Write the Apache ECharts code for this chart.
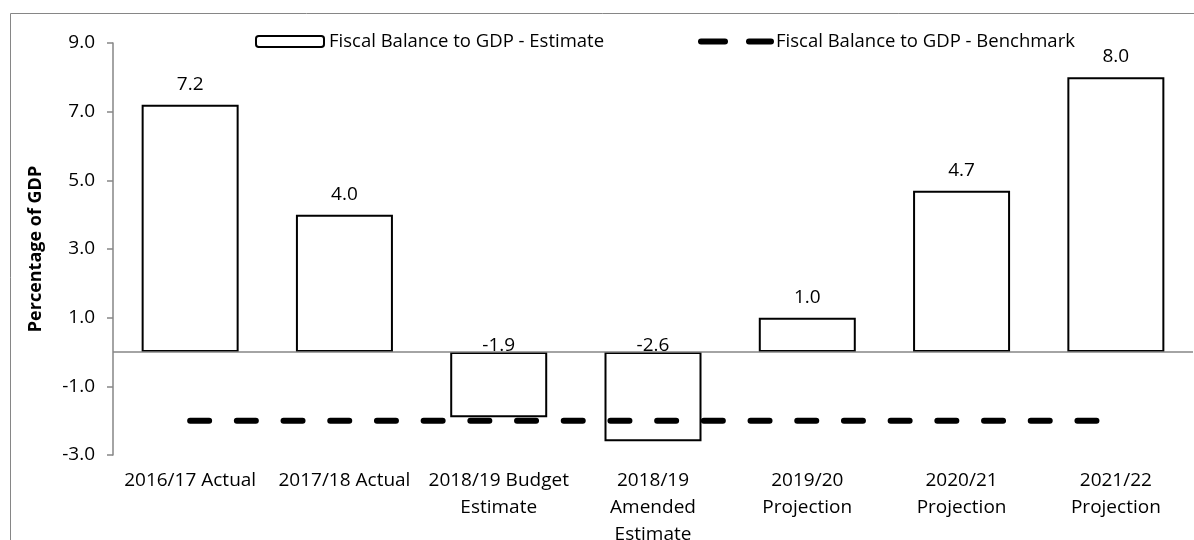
<!DOCTYPE html>
<html>
<head>
<meta charset="utf-8">
<script src="https://cdn.jsdelivr.net/npm/echarts@6/dist/echarts.min.js"></script>
<style>
  html, body { margin: 0; padding: 0; background: #fff; }
  #chart { width: 1194px; height: 540px; }
</style>
</head>
<body>
<div id="chart"></div>
<script>
const categories = [
  "2016/17 Actual",
  "2017/18 Actual",
  "2018/19 Budget\nEstimate",
  "2018/19\nAmended\nEstimate",
  "2019/20\nProjection",
  "2020/21\nProjection",
  "2021/22\nProjection"
];
const estimateValues = [7.2, 4.0, -1.9, -2.6, 1.0, 4.7, 8.0];
const benchmarkValues = [-2, -2, -2, -2, -2, -2, -2];
const yTicks = { min: -3, max: 9, interval: 2 };
const estimateName = "Fiscal Balance to GDP - Estimate";
const benchmarkName = "Fiscal Balance to GDP - Benchmark";
const yAxisName = "Percentage of GDP";

const FONT = "Open Sans";
const GRAY = "#868686";

const barData = estimateValues.map(v => ({
  value: v,
  label: { distance: v < 0 ? -3 : 11 }
}));

const chart = echarts.init(document.getElementById('chart'), null, { renderer: 'canvas' });
chart.setOption({
  animation: false,
  backgroundColor: '#ffffff',
  textStyle: { fontFamily: FONT, color: '#000' },
  graphic: [{
    type: 'rect',
    shape: { x: 10.5, y: 13.5, width: 1300, height: 700 },
    style: { fill: 'none', stroke: GRAY, lineWidth: 1 },
    silent: true,
    z: -10
  }],
  legend: [{
    data: [estimateName],
    left: 250,
    top: 27,
    itemWidth: 68,
    itemHeight: 11,
    itemGap: 0,
    textStyle: { fontFamily: FONT, fontSize: 18.5, color: '#000' },
    itemStyle: { color: '#fff', borderColor: '#000', borderWidth: 2 }
  }, {
    data: [benchmarkName],
    left: 693,
    top: 27,
    itemWidth: 70,
    itemHeight: 11,
    textStyle: { fontFamily: FONT, fontSize: 18.5, color: '#000' },
    itemStyle: { opacity: 0 },
    lineStyle: { color: '#000', width: 6, type: [24, 24], cap: 'round' }
  }],
  grid: { left: 113, right: 1, top: 43, bottom: 85, containLabel: false, outerBoundsMode: 'none' },
  xAxis: {
    type: 'category',
    data: categories,
    boundaryGap: true,
    axisLine: { show: false, onZero: false },
    axisTick: { show: false },
    axisLabel: {
      interval: 0,
      margin: 12,
      fontFamily: FONT,
      fontSize: 19,
      lineHeight: 27,
      color: '#000'
    },
    splitLine: { show: false }
  },
  yAxis: {
    type: 'value',
    min: yTicks.min,
    max: yTicks.max,
    interval: yTicks.interval,
    name: yAxisName,
    nameLocation: 'middle',
    nameRotate: 90,
    nameGap: 68,
    nameTextStyle: { fontFamily: FONT, fontSize: 18, fontWeight: 'bold', color: '#000' },
    axisLine: { show: true, onZero: false, lineStyle: { color: GRAY, width: 1.5 } },
    axisTick: { show: true, inside: false, length: 6, lineStyle: { color: GRAY, width: 1.5 } },
    axisLabel: {
      margin: 18,
      fontFamily: FONT,
      fontSize: 19,
      color: '#000',
      formatter: v => v.toFixed(1)
    },
    splitLine: { show: false }
  },
  series: [{
    name: estimateName,
    type: 'bar',
    data: barData,
    barWidth: 97,
    itemStyle: { color: '#fff', borderColor: '#000', borderWidth: 2 },
    label: {
      show: true,
      position: 'top',
      fontFamily: FONT,
      fontSize: 19,
      color: '#000',
      formatter: p => Number(p.value).toFixed(1)
    },
    markLine: {
      silent: true,
      symbol: ['none', 'none'],
      label: { show: false },
      lineStyle: { color: GRAY, width: 1.5, type: 'solid' },
      data: [{ yAxis: 0 }]
    }
  }, {
    name: benchmarkName,
    type: 'line',
    data: benchmarkValues,
    symbol: 'none',
    lineStyle: { color: '#000', width: 6, type: [19, 27.7], cap: 'round' },
    z: 5
  }]
});
</script>
</body>
</html>
